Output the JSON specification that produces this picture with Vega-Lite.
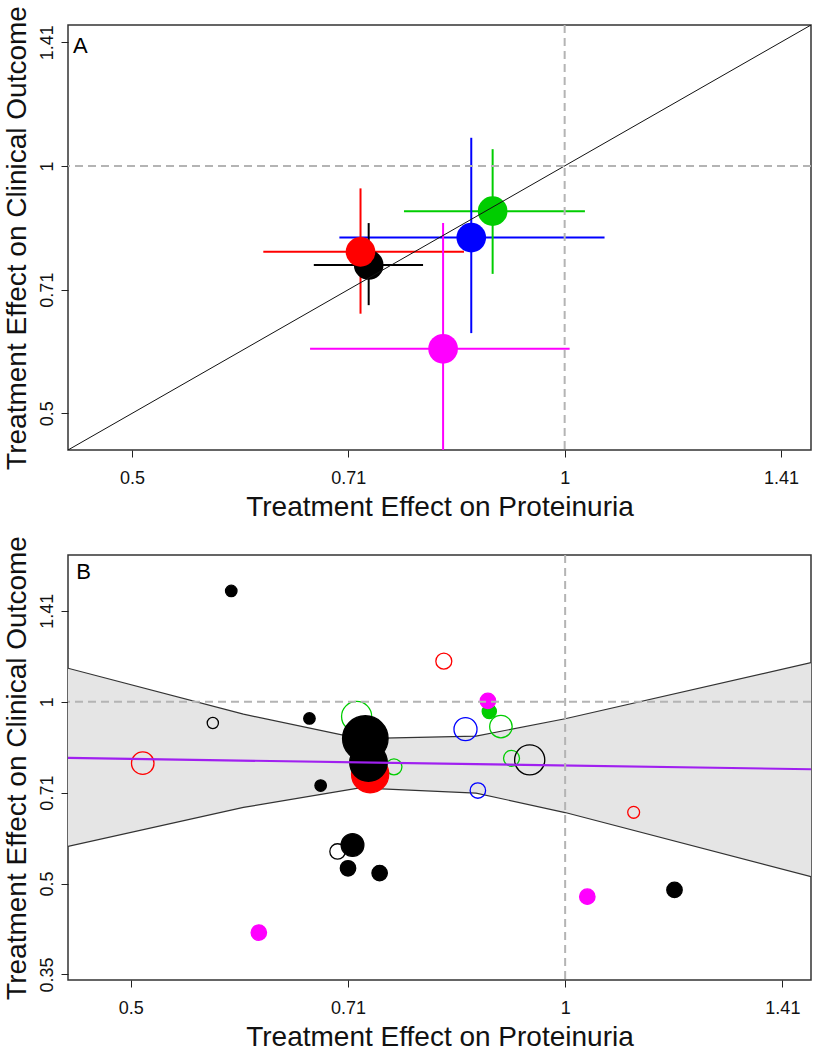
{
  "$schema": "https://vega.github.io/schema/vega-lite/v6.json",
  "background": "white",
  "padding": {"left": 2, "top": 4, "right": 1, "bottom": 2},
  "spacing": 105,
  "bounds": "flush",
  "config": {
    "view": {"stroke": "#333333", "strokeWidth": 1.5},
    "axis": {
      "grid": false, "domain": false, "tickColor": "#222222", "tickSize": 7, "tickWidth": 1,
      "labelFont": "Liberation Sans", "labelFontSize": 18, "labelColor": "#111111", "labelFlush": false,
      "titleFont": "Liberation Sans", "titleFontSize": 28, "titleFontWeight": "normal", "titleColor": "#111111"
    },
    "axisX": {"labelPadding": 12, "titlePadding": 6},
    "axisY": {"labelAngle": 270, "labelAlign": "center", "labelBaseline": "bottom", "labelPadding": 5, "titlePadding": 7},
    "text": {"font": "Liberation Sans"}
  },
  "datasets": {
    "summary": [
      {"grp": "g1", "x": 0.7305, "y": 0.7577, "xlo": 0.669, "xhi": 0.797, "ylo": 0.677, "yhi": 0.852},
      {"grp": "g2", "x": 0.721, "y": 0.786, "xlo": 0.617, "xhi": 0.851, "ylo": 0.661, "yhi": 0.939},
      {"grp": "g5", "x": 0.823, "y": 0.599, "xlo": 0.665, "xhi": 1.008, "ylo": 0.40, "yhi": 0.852},
      {"grp": "g3", "x": 0.891, "y": 0.881, "xlo": 0.773, "xhi": 1.033, "ylo": 0.739, "yhi": 1.048},
      {"grp": "g4", "x": 0.861, "y": 0.818, "xlo": 0.697, "xhi": 1.066, "ylo": 0.626, "yhi": 1.082}
    ],
    "trials": [
      {"grp": "g1", "x": 0.570, "y": 0.922, "w": 40, "open": 1},
      {"grp": "g2", "x": 0.5097, "y": 0.791, "w": 161, "open": 1},
      {"grp": "g2", "x": 0.824, "y": 1.167, "w": 81, "open": 1},
      {"grp": "g3", "x": 0.9026, "y": 0.9095, "w": 161, "open": 1},
      {"grp": "g4", "x": 0.853, "y": 0.9006, "w": 169, "open": 1},
      {"grp": "g3", "x": 0.717, "y": 0.945, "w": 289, "open": 1},
      {"grp": "g3", "x": 0.761, "y": 0.780, "w": 81, "open": 1},
      {"grp": "g3", "x": 0.918, "y": 0.806, "w": 81, "open": 1},
      {"grp": "g1", "x": 0.945, "y": 0.801, "w": 289, "open": 1},
      {"grp": "g4", "x": 0.870, "y": 0.7128, "w": 76, "open": 1},
      {"grp": "g1", "x": 0.6955, "y": 0.565, "w": 76, "open": 1},
      {"grp": "g2", "x": 1.1155, "y": 0.656, "w": 45, "open": 1},
      {"grp": "g3", "x": 0.886, "y": 0.963, "w": 64, "open": 0},
      {"grp": "g5", "x": 0.884, "y": 1.003, "w": 76, "open": 0},
      {"grp": "g5", "x": 0.6134, "y": 0.4148, "w": 76, "open": 0},
      {"grp": "g5", "x": 1.036, "y": 0.4756, "w": 76, "open": 0},
      {"grp": "g2", "x": 0.7326, "y": 0.7587, "w": 440, "open": 0},
      {"grp": "g1", "x": 0.587, "y": 1.525, "w": 42, "open": 0},
      {"grp": "g1", "x": 0.665, "y": 0.938, "w": 42, "open": 0},
      {"grp": "g1", "x": 0.677, "y": 0.7264, "w": 42, "open": 0},
      {"grp": "g1", "x": 0.7123, "y": 0.579, "w": 165, "open": 0},
      {"grp": "g1", "x": 0.7072, "y": 0.530, "w": 76, "open": 0},
      {"grp": "g1", "x": 0.7438, "y": 0.5204, "w": 76, "open": 0},
      {"grp": "g1", "x": 1.1906, "y": 0.488, "w": 76, "open": 0},
      {"grp": "g1", "x": 0.7307, "y": 0.793, "w": 450, "open": 0},
      {"grp": "g1", "x": 0.727, "y": 0.869, "w": 660, "open": 0}
    ],
    "band": [
      {"x": 0.4524, "lo": 0.576, "hi": 1.136},
      {"x": 0.5985, "lo": 0.6683, "hi": 0.9535},
      {"x": 0.7205, "lo": 0.7202, "hi": 0.869},
      {"x": 0.8675, "lo": 0.7058, "hi": 0.877},
      {"x": 1.0, "lo": 0.6554, "hi": 0.937},
      {"x": 1.4803, "lo": 0.5133, "hi": 1.1606}
    ]
  },
  "vconcat": [
    {
      "width": 743,
      "height": 425,
      "layer": [
        {
          "data": {"name": "summary"},
          "mark": {"type": "rule", "strokeWidth": 2, "clip": true},
          "encoding": {
            "x": {"field": "xlo", "type": "quantitative", "scale": {"type": "log", "domain": [0.4512, 1.484], "nice": false, "zero": false},
                  "axis": {"values": [0.5, 0.7071, 1, 1.4142], "format": ".2~f", "title": "Treatment Effect on Proteinuria"}},
            "x2": {"field": "xhi"},
            "y": {"field": "y", "type": "quantitative", "scale": {"type": "log", "domain": [0.4512, 1.484], "nice": false, "zero": false},
                  "axis": {"values": [0.5, 0.7071, 1, 1.4142], "format": ".2~f", "title": "Treatment Effect on Clinical Outcome"}},
            "color": {"field": "grp", "type": "nominal", "scale": {"domain": ["g1", "g2", "g3", "g4", "g5"], "range": ["#000000", "#FF0000", "#00CD00", "#0000FF", "#FF00FF"]}, "legend": null}
          }
        },
        {
          "data": {"name": "summary"},
          "mark": {"type": "rule", "strokeWidth": 2, "clip": true},
          "encoding": {
            "x": {"field": "x", "type": "quantitative"},
            "y": {"field": "ylo", "type": "quantitative"},
            "y2": {"field": "yhi"},
            "color": {"field": "grp", "type": "nominal", "legend": null}
          }
        },
        {
          "data": {"name": "summary"},
          "mark": {"type": "circle", "size": 880, "opacity": 1, "clip": true},
          "encoding": {
            "x": {"field": "x", "type": "quantitative"},
            "y": {"field": "y", "type": "quantitative"},
            "color": {"field": "grp", "type": "nominal", "legend": null}
          }
        },
        {
          "data": {"values": [{"v": 0.4512}, {"v": 1.484}]},
          "mark": {"type": "line", "color": "#111111", "strokeWidth": 1, "clip": true},
          "encoding": {
            "x": {"field": "v", "type": "quantitative"},
            "y": {"field": "v", "type": "quantitative"}
          }
        },
        {
          "data": {"values": [{"ref": 1}]},
          "mark": {"type": "rule", "color": "#b4b4b4", "strokeWidth": 2, "strokeDash": [8, 5]},
          "encoding": {"x": {"field": "ref", "type": "quantitative"}}
        },
        {
          "data": {"values": [{"ref": 1}]},
          "mark": {"type": "rule", "color": "#b4b4b4", "strokeWidth": 2, "strokeDash": [8, 5]},
          "encoding": {"y": {"field": "ref", "type": "quantitative"}}
        },
        {
          "data": {"values": [{"label": "A", "x": 0.4549, "y": 1.3726}]},
          "mark": {"type": "text", "align": "left", "baseline": "alphabetic", "fontSize": 22, "color": "#000000"},
          "encoding": {
            "x": {"field": "x", "type": "quantitative"},
            "y": {"field": "y", "type": "quantitative"},
            "text": {"field": "label"}
          }
        }
      ]
    },
    {
      "width": 743,
      "height": 425,
      "layer": [
        {
          "data": {"name": "band"},
          "mark": {"type": "area", "color": "#e5e5e5", "opacity": 1, "clip": true},
          "encoding": {
            "x": {"field": "x", "type": "quantitative", "scale": {"type": "log", "domain": [0.4524, 1.4803], "nice": false, "zero": false},
                  "axis": {"values": [0.5, 0.7071, 1, 1.4142], "format": ".2~f", "title": "Treatment Effect on Proteinuria"}},
            "y": {"field": "hi", "type": "quantitative", "scale": {"type": "log", "domain": [0.3462, 1.749], "nice": false, "zero": false},
                  "axis": {"values": [0.3536, 0.5, 0.7071, 1, 1.4142], "format": ".2~f", "title": "Treatment Effect on Clinical Outcome"}},
            "y2": {"field": "lo"}
          }
        },
        {
          "data": {"name": "band"},
          "mark": {"type": "line", "color": "#333333", "strokeWidth": 1.2, "clip": true},
          "encoding": {
            "x": {"field": "x", "type": "quantitative"},
            "y": {"field": "hi", "type": "quantitative"}
          }
        },
        {
          "data": {"name": "band"},
          "mark": {"type": "line", "color": "#333333", "strokeWidth": 1.2, "clip": true},
          "encoding": {
            "x": {"field": "x", "type": "quantitative"},
            "y": {"field": "lo", "type": "quantitative"}
          }
        },
        {
          "data": {"name": "trials"},
          "mark": {"type": "circle", "opacity": 1, "strokeWidth": 1.3, "clip": true},
          "encoding": {
            "x": {"field": "x", "type": "quantitative"},
            "y": {"field": "y", "type": "quantitative"},
            "size": {"field": "w", "type": "quantitative", "scale": {"domain": [0, 700], "range": [0, 2199]}, "legend": null},
            "fill": {"condition": {"test": "datum.open == 1", "value": "transparent"}, "field": "grp", "type": "nominal",
                     "scale": {"domain": ["g1", "g2", "g3", "g4", "g5"], "range": ["#000000", "#FF0000", "#00CD00", "#0000FF", "#FF00FF"]}, "legend": null},
            "stroke": {"field": "grp", "type": "nominal",
                       "scale": {"domain": ["g1", "g2", "g3", "g4", "g5"], "range": ["#000000", "#FF0000", "#00CD00", "#0000FF", "#FF00FF"]}, "legend": null}
          }
        },
        {
          "data": {"values": [{"x": 0.4524, "y": 0.807}, {"x": 1.4803, "y": 0.773}]},
          "mark": {"type": "line", "color": "#A020F0", "strokeWidth": 2.2, "clip": true},
          "encoding": {
            "x": {"field": "x", "type": "quantitative"},
            "y": {"field": "y", "type": "quantitative"}
          }
        },
        {
          "data": {"values": [{"ref": 1}]},
          "mark": {"type": "rule", "color": "#b4b4b4", "strokeWidth": 2, "strokeDash": [8, 5]},
          "encoding": {"x": {"field": "ref", "type": "quantitative"}}
        },
        {
          "data": {"values": [{"ref": 1}]},
          "mark": {"type": "rule", "color": "#b4b4b4", "strokeWidth": 2, "strokeDash": [8, 5]},
          "encoding": {"y": {"field": "ref", "type": "quantitative"}}
        },
        {
          "data": {"values": [{"label": "B", "x": 0.4584, "y": 1.5946}]},
          "mark": {"type": "text", "align": "left", "baseline": "alphabetic", "fontSize": 22, "color": "#000000"},
          "encoding": {
            "x": {"field": "x", "type": "quantitative"},
            "y": {"field": "y", "type": "quantitative"},
            "text": {"field": "label"}
          }
        }
      ]
    }
  ]
}
